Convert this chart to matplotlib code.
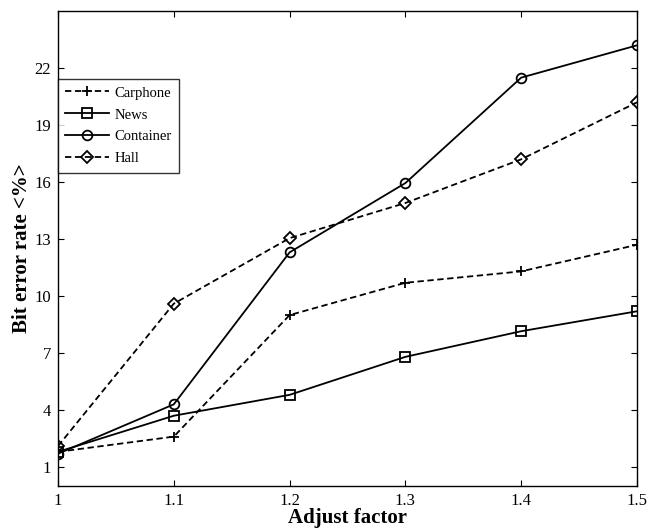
import matplotlib
matplotlib.use("Agg")
import matplotlib.pyplot as plt

plt.rcParams['font.family'] = ['Liberation Serif', 'DejaVu Serif']

x = [1.0, 1.1, 1.2, 1.3, 1.4, 1.5]
carphone = [1.8, 2.6, 9.0, 10.7, 11.3, 12.7]
news = [1.8, 3.7, 4.8, 6.8, 8.15, 9.2]
container = [1.7, 4.3, 12.3, 15.95, 21.5, 23.2]
hall = [2.1, 9.6, 13.05, 14.9, 17.2, 20.2]

xticks = [1, 1.1, 1.2, 1.3, 1.4, 1.5]
xticklabels = ['1', '1.1', '1.2', '1.3', '1.4', '1.5']
yticks = [1, 4, 7, 10, 13, 16, 19, 22]

fig = plt.figure(figsize=(6.5, 5.31), dpi=100)
ax = fig.add_axes([0.0892, 0.0847, 0.8908, 0.8943])

dash = (0, (3.5, 2))
lw = 1.3
ax.plot(x, carphone, color='black', lw=lw, linestyle=dash, marker='+', ms=7,
        mew=1.3, label='Carphone')
ax.plot(x, news, color='black', lw=lw, linestyle='-', marker='s', ms=7,
        mfc='none', mew=1.3, label='News')
ax.plot(x, container, color='black', lw=lw, linestyle='-', marker='o', ms=7,
        mfc='none', mew=1.3, label='Container')
ax.plot(x, hall, color='black', lw=lw, linestyle=dash, marker='D', ms=6,
        mfc='none', mew=1.3, label='Hall')

ax.set_xlim(1, 1.5)
ax.set_ylim(0, 25)
ax.set_xticks(xticks)
ax.set_xticklabels(xticklabels)
ax.set_yticks(yticks)
ax.tick_params(direction='in', top=True, right=True, length=4, width=0.8,
               labelsize=12, colors='black', pad=5)
for s in ax.spines.values():
    s.set_linewidth(1.0)

ax.set_xlabel('Adjust factor', fontsize=15, fontweight='bold', labelpad=-1)
ax.set_ylabel('Bit error rate <%>', fontsize=15, fontweight='bold', labelpad=2)

leg = ax.legend(loc='upper left', bbox_to_anchor=(0.0, 0.857), fontsize=10.5,
                frameon=True, fancybox=False, edgecolor='black',
                borderaxespad=0, handlelength=3.0, handletextpad=0.4,
                labelspacing=0.6, borderpad=0.5)
leg.get_frame().set_linewidth(1.0)

fig.savefig('out.png', dpi=100)
